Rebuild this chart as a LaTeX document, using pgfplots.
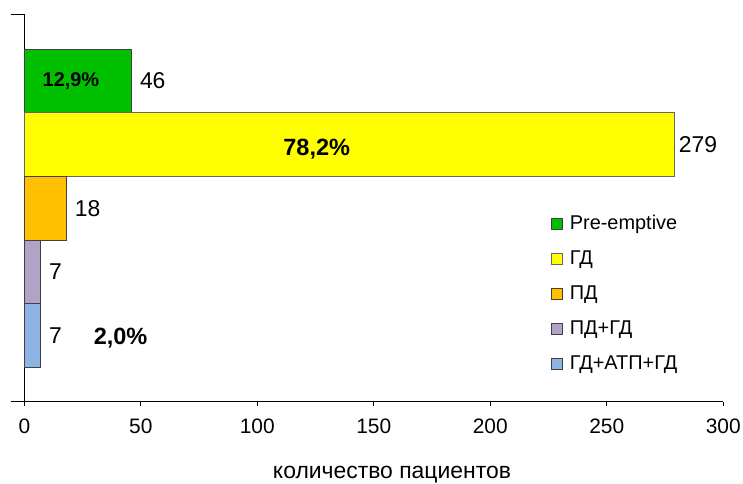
\documentclass[border=0pt]{standalone}
\usepackage{fontspec}
\setmainfont{Liberation Sans}
\usepackage{pgfplots}
\pgfplotsset{compat=1.18}
\definecolor{cGreen}{HTML}{00C000}
\definecolor{cYellow}{HTML}{FFFF00}
\definecolor{cOrange}{HTML}{FFC000}
\definecolor{cPurple}{HTML}{B3A2C7}
\definecolor{cBlue}{HTML}{8EB4E3}
\definecolor{cEdge}{HTML}{404040}
\begin{document}
\begin{tikzpicture}
\begin{axis}[
  scale only axis, width=349.5bp, height=193.85bp,
  xbar, bar shift=0pt, bar width=1,
  xmin=0, xmax=300, ymin=-1.041, ymax=5.048,
  axis x line*=bottom, axis y line*=left,
  axis line style={line width=0.5bp, black},
  ytick=\empty,
  xtick={0,50,...,300},
  tick align=outside, major tick length=2bp,
  tick style={line width=0.5bp, black},
  /pgf/number format/assume math mode=true,
  xticklabel style={font=\fontsize{10.5}{12}\selectfont, inner sep=0pt, yshift=-6.25bp},
  xlabel={количество пациентов},
  xlabel style={font=\fontsize{11.5}{13}\selectfont, anchor=base, inner sep=0pt, at={(axis description cs:0.526,-0.1975)}},
  clip=false,
  point meta=explicit symbolic,
  nodes near coords,
  every node near coord/.append style={font=\fontsize{11.5}{13}\selectfont, anchor=west, inner sep=0pt, xshift=4bp},
  sq legend/.style={legend image code/.code={\draw[##1, line width=0.5bp] (0bp,-2.7bp) rectangle (5.4bp,2.7bp);}},
  every axis plot post/.append style={sq legend},
  legend style={at={(0.753,0.485)}, anchor=north west, draw=none, fill=none, inner sep=0pt,
    font=\fontsize{10}{12}\selectfont, row sep=7.5bp, column sep=3.5bp,
    nodes={inner sep=0pt, text height=7.5bp, text depth=2.5bp}},
  legend cell align=left,
]
\addplot[fill=cGreen, draw=cEdge, line width=0.5bp] coordinates {(46,4) [46]};
\addplot[fill=cYellow, draw=cEdge!80!white, line width=0.5bp,
  every node near coord/.append style={xshift=-2bp}] coordinates {(279,3) [279]};
\addplot[fill=cOrange, draw=cEdge, line width=0.5bp] coordinates {(18,2) [18]};
\addplot[fill=cPurple, draw=cEdge, line width=0.5bp] coordinates {(7,1) [7]};
\addplot[fill=cBlue, draw=cEdge, line width=0.5bp] coordinates {(7,0) [7]};
\legend{Pre-emptive, ГД, ПД, ПД+ГД, ГД+АТП+ГД}

\node[font=\bfseries\fontsize{10}{12}\selectfont] at (axis cs:20.0,4) {12,9\%};
\node[font=\bfseries\fontsize{11.8}{14}\selectfont] at (axis cs:125.5,2.937) {78,2\%};
\node[font=\bfseries\fontsize{11.8}{14}\selectfont] at (axis cs:41.3,-0.041) {2,0\%};

\draw[line width=0.5bp] ([xshift=-6.5bp]rel axis cs:0,1) -- (rel axis cs:0,1);
\draw[line width=0.5bp] ([xshift=-6.5bp]rel axis cs:0,0) -- (rel axis cs:0,0);
\path (rel axis cs:-0.0348,-0.2063) rectangle (rel axis cs:1.0282,1.0369);
\end{axis}
\end{tikzpicture}
\end{document}
